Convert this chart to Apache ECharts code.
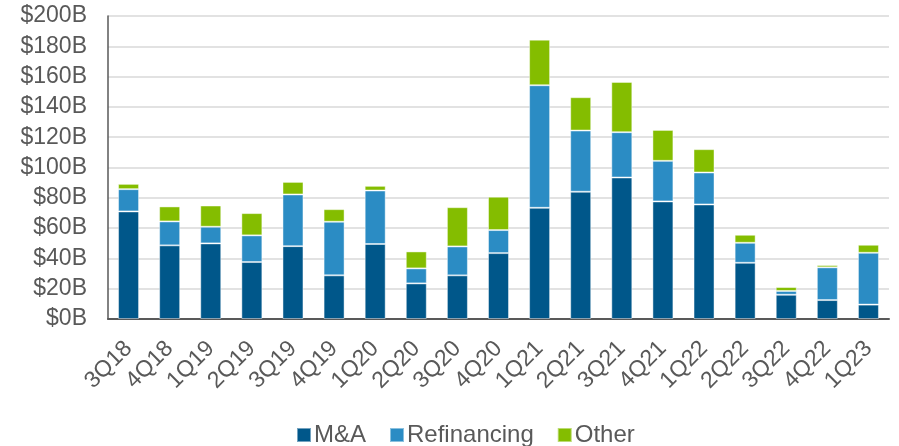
<!DOCTYPE html>
<html>
<head>
<meta charset="utf-8">
<script src="https://cdn.jsdelivr.net/npm/echarts@6/dist/echarts.min.js"></script>
<style>
  html, body { margin: 0; padding: 0; background: #fff; }
  #main { width: 899px; height: 446px; }
</style>
</head>
<body>
<div id="main"></div>
<script>
var quarters = ['3Q18','4Q18','1Q19','2Q19','3Q19','4Q19','1Q20','2Q20','3Q20','4Q20',
                '1Q21','2Q21','3Q21','4Q21','1Q22','2Q22','3Q22','4Q22','1Q23'];
// $B per segment
var mna   = [71, 48.6, 49.9, 37.6, 48.1, 28.8, 49.5, 23.5, 28.8, 43.5, 73.4, 84, 93.4, 77.6, 75.6, 37.1, 16, 12.5, 9.5];
var refi  = [14.7, 15.8, 11, 17.6, 34.1, 35.4, 35.3, 9.9, 19.1, 15.2, 80.9, 40.4, 29.9, 26.8, 21.1, 13.2, 2.5, 21.6, 34.2];
var other = [3.5, 9.9, 14, 14.7, 8.3, 8.3, 3.1, 11.2, 25.9, 22, 30.1, 22, 33.2, 20.4, 15.4, 5.3, 2.6, 1.5, 5.3];

var font = 'Liberation Sans, Arial, sans-serif';
var textColor = '#595959';

var myChart = echarts.init(document.getElementById('main'));

function seg(name, data, color) {
    return {
        name: name,
        type: 'bar',
        stack: 'total',
        barWidth: 21,
        data: data,
        itemStyle: { color: color, borderColor: 'rgba(255,255,255,0.45)', borderWidth: 1 }
    };
}

var option = {
    animation: false,
    grid: { left: 108, right: 10, top: 16, bottom: 127 },
    legend: {
        top: 418,
        left: 291,
        itemWidth: 14,
        itemHeight: 14,
        itemGap: 23,
        icon: 'rect',
        textStyle: { fontFamily: font, fontSize: 24, color: textColor, padding: [0, 0, 0, -2] },
        data: ['M&A', 'Refinancing', 'Other']
    },
    xAxis: {
        type: 'category',
        data: quarters,
        axisTick: { show: false },
        axisLine: { lineStyle: { color: '#595959', width: 2 } },
        axisLabel: {
            rotate: 45, interval: 0, margin: 26,
            fontFamily: font, fontSize: 23, color: textColor
        }
    },
    yAxis: {
        type: 'value',
        min: 0,
        max: 200,
        interval: 20,
        axisLine: { show: true, lineStyle: { color: '#595959', width: 1.5 } },
        axisTick: { show: false },
        splitLine: { lineStyle: { color: '#D9D9D9', width: 1.5 } },
        axisLabel: {
            margin: 21,
            fontFamily: font,
            fontSize: 23,
            color: textColor,
            formatter: function (v) { return '$' + v + 'B'; }
        }
    },
    series: [
        seg('M&A', mna, '#00578A'),
        seg('Refinancing', refi, '#2B8CC4'),
        seg('Other', other, '#84BD00')
    ]
};

myChart.setOption(option);
</script>
</body>
</html>
